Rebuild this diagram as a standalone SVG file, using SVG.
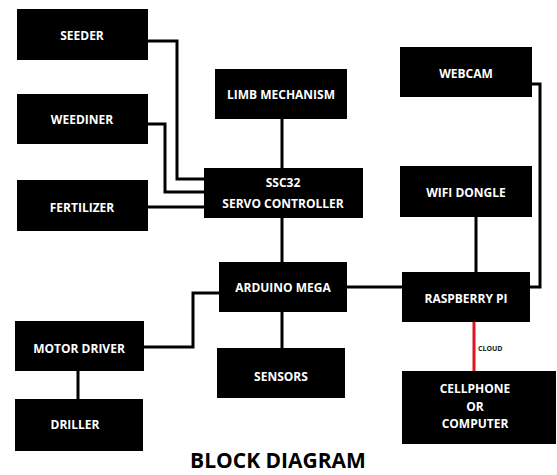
<svg xmlns="http://www.w3.org/2000/svg" width="557" height="475" viewBox="0 0 557 475">
<style>
.box{fill:#000}
.t{fill:#fff;font-family:"Open Sans","Liberation Sans",sans-serif;font-weight:bold;font-size:12px;text-anchor:middle;dominant-baseline:central}
.c{fill:none;stroke:#000;stroke-width:3}
</style>
<rect width="557" height="475" fill="#fff"/>
<g id="connectors">
<polyline class="c" points="148,41 177,41 177,179 204,179"/>
<polyline class="c" points="148,124 165,124 165,192 204,192"/>
<line class="c" x1="148" y1="207" x2="204" y2="207"/>
<line class="c" x1="282" y1="119" x2="282" y2="168"/>
<line class="c" x1="282" y1="218" x2="282" y2="262"/>
<line class="c" x1="282" y1="312" x2="282" y2="348"/>
<polyline class="c" points="144,347 193,347 193,293 219,293"/>
<line class="c" x1="78" y1="371" x2="78" y2="399"/>
<line class="c" x1="347" y1="287" x2="402" y2="287"/>
<line class="c" x1="476" y1="217" x2="476" y2="272"/>
<polyline class="c" points="532,84 540,84 540,287 530,287"/>
<line x1="474" y1="322" x2="474" y2="371" stroke="#e0141e" stroke-width="3"/>
<text x="478" y="348" font-family="Open Sans, Liberation Sans, sans-serif" font-size="7" font-weight="bold" fill="#222" dominant-baseline="central">CLOUD</text>
</g>
<g id="seeder"><rect class="box" x="17" y="9" width="131" height="51"/><text class="t" x="82" y="35">SEEDER</text></g>
<g id="weediner"><rect class="box" x="17" y="94" width="131" height="50"/><text class="t" x="82" y="119">WEEDINER</text></g>
<g id="fertilizer"><rect class="box" x="17" y="180" width="131" height="51"/><text class="t" x="82" y="207">FERTILIZER</text></g>
<g id="limb"><rect class="box" x="215" y="69" width="132" height="50"/><text class="t" x="281" y="94">LIMB MECHANISM</text></g>
<g id="ssc32"><rect class="box" x="204" y="168" width="159" height="50"/><text class="t" x="283" y="182">SSC32</text><text class="t" x="283" y="203">SERVO CONTROLLER</text></g>
<g id="webcam"><rect class="box" x="400" y="47" width="132" height="50"/><text class="t" x="466" y="73">WEBCAM</text></g>
<g id="wifi"><rect class="box" x="400" y="166" width="132" height="51"/><text class="t" x="466" y="192">WIFI DONGLE</text></g>
<g id="arduino"><rect class="box" x="219" y="262" width="128" height="50"/><text class="t" x="283" y="287">ARDUINO MEGA</text></g>
<g id="raspberry"><rect class="box" x="402" y="272" width="128" height="50"/><text class="t" x="466" y="298">RASPBERRY PI</text></g>
<g id="sensors"><rect class="box" x="217" y="348" width="128" height="50"/><text class="t" x="281" y="376">SENSORS</text></g>
<g id="motor"><rect class="box" x="15" y="321" width="129" height="50"/><text class="t" x="79" y="348">MOTOR DRIVER</text></g>
<g id="driller"><rect class="box" x="15" y="399" width="128" height="52"/><text class="t" x="75" y="424">DRILLER</text></g>
<g id="cellphone"><rect class="box" x="402" y="371" width="154" height="73"/><text class="t" x="475" y="388">CELLPHONE</text><text class="t" x="475" y="406">OR</text><text class="t" x="475" y="423">COMPUTER</text></g>
<text x="278" y="468" font-family="Open Sans, Liberation Sans, sans-serif" font-weight="bold" font-size="21" text-anchor="middle" fill="#000">BLOCK DIAGRAM</text>
</svg>
